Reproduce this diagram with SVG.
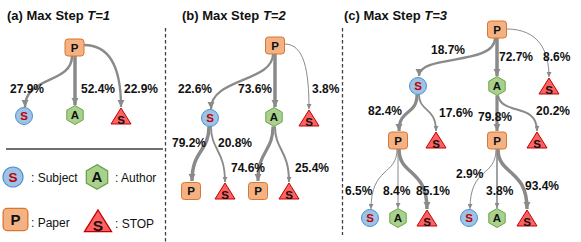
<svg xmlns="http://www.w3.org/2000/svg" xmlns:xlink="http://www.w3.org/1999/xlink" width="581" height="242" viewBox="0 0 581 242">
<style>
text{font-family:"Liberation Sans",Arial,sans-serif;fill:#111}
.t{font-size:13px;font-weight:bold}
.l{font-size:12px;font-weight:bold}
.g{font-size:12px}
.n{font-size:11.5px;font-weight:bold;text-anchor:middle}
.red{fill:#C00000}
.pb{fill:#F4B183;stroke:#D9772F;stroke-width:1}
.sc{fill:#9DC3E6;stroke:#4F8FCF;stroke-width:1}
.ah{fill:#A9D18E;stroke:#6FA24A;stroke-width:1}
.tr{fill:#FF6161;stroke:#C00000;stroke-width:1}
.e{fill:none;stroke:#8A8A8A}
.dash{stroke:#404040;stroke-width:1.3;stroke-dasharray:3.5 2.5;fill:none}
</style>
<defs>
<marker id="m" viewBox="0 0 10 10" refX="10" refY="5" markerWidth="7.5" markerHeight="7.5" markerUnits="userSpaceOnUse" orient="auto"><path d="M0,0 L10,5 L0,10 Z" fill="#8A8A8A"/></marker>
<marker id="ms" viewBox="0 0 10 10" refX="10" refY="5" markerWidth="5" markerHeight="5" markerUnits="userSpaceOnUse" orient="auto"><path d="M0,0 L10,5 L0,10 Z" fill="#8A8A8A"/></marker>
<rect id="pbox" class="pb" x="-9.5" y="-8.5" width="19" height="17" rx="3"/>
<circle id="scir" class="sc" r="8.5"/>
<polygon id="ahex" class="ah" points="0,-9.5 8.2,-4.75 8.2,4.75 0,9.5 -8.2,4.75 -8.2,-4.75"/>
<polygon id="tri" class="tr" points="0,0 10,16 -10,16"/>
</defs>

<!-- titles -->
<text class="t" x="7" y="20">(a) Max Step <tspan font-style="italic">T=1</tspan></text>
<text class="t" x="182" y="20">(b) Max Step <tspan font-style="italic">T=2</tspan></text>
<text class="t" x="344" y="20">(c) Max Step <tspan font-style="italic">T=3</tspan></text>

<!-- separators -->
<line class="dash" x1="165.5" y1="28" x2="165.5" y2="242"/>
<line class="dash" x1="342.5" y1="28" x2="342.5" y2="235"/>
<line x1="6" y1="149" x2="163" y2="149" stroke="#404040" stroke-width="1.5"/>

<g id="connectors">
<!-- (a) -->
<path class="e" stroke-width="2.5" marker-end="url(#m)" d="M72,56 C72,84 25,76 25,107"/>
<path class="e" stroke-width="3.5" marker-end="url(#m)" d="M75,56 L75,105"/>
<path class="e" stroke-width="2.3" marker-end="url(#m)" d="M84,45 C112,45 121,72 121,107"/>
<!-- (b) -->
<path class="e" stroke-width="2.2" marker-end="url(#m)" d="M273,54 C273,82 211,78 211,109"/>
<path class="e" stroke-width="3.5" marker-end="url(#m)" d="M275,54 L275,107"/>
<path class="e" stroke-width="1" marker-end="url(#ms)" d="M284.5,44 C304,44 309,70 309,109"/>
<path class="e" stroke-width="3.5" marker-end="url(#m)" d="M209,126.5 C209,152 192,150 192,181"/>
<path class="e" stroke-width="1.8" marker-end="url(#ms)" d="M211,126.5 C211,150 225,150 225,182"/>
<path class="e" stroke-width="3.2" marker-end="url(#m)" d="M273,126.5 C273,152 258,150 258,181"/>
<path class="e" stroke-width="2" marker-end="url(#ms)" d="M275,126.5 C275,150 289,150 289,182"/>
<!-- (c) level 1 -->
<path class="e" stroke-width="2.4" marker-end="url(#m)" d="M495,38 C495,66 419,54 419,76"/>
<path class="e" stroke-width="3.5" marker-end="url(#m)" d="M497,38 L497,76"/>
<path class="e" stroke-width="1" marker-end="url(#ms)" d="M506.5,29 C538,29 549,50 549,77"/>
<!-- (c) level 2 -->
<path class="e" stroke-width="3.2" marker-end="url(#m)" d="M417,94.5 C417,116 399,108 399,131"/>
<path class="e" stroke-width="1.8" marker-end="url(#ms)" d="M419,94.5 C419,112 436,107 436,131"/>
<path class="e" stroke-width="3.2" marker-end="url(#m)" d="M497,95.5 L497,131"/>
<path class="e" stroke-width="2" marker-end="url(#ms)" d="M498,95.5 C502,116 537,102 537,131"/>
<!-- (c) level 3 -->
<path class="e" stroke-width="1" marker-end="url(#ms)" d="M397,149 C397,176 371,166 371,209"/>
<path class="e" stroke-width="1" marker-end="url(#ms)" d="M398,149 L398,208"/>
<path class="e" stroke-width="3.5" marker-end="url(#m)" d="M399,149 C399,176 427,168 427,209"/>
<path class="e" stroke-width="1" marker-end="url(#ms)" d="M496,149 C496,178 470,166 470,209"/>
<path class="e" stroke-width="1.6" marker-end="url(#ms)" d="M497,149 L497,208"/>
<path class="e" stroke-width="3.5" marker-end="url(#m)" d="M498,149 C498,176 527,168 527,209"/>
</g>

<g id="edge-labels">
<text class="l" x="10" y="93">27.9%</text>
<text class="l" x="81" y="93">52.4%</text>
<text class="l" x="124" y="93">22.9%</text>
<text class="l" x="178" y="93">22.6%</text>
<text class="l" x="238" y="93">73.6%</text>
<text class="l" x="312" y="93">3.8%</text>
<text class="l" x="172" y="147">79.2%</text>
<text class="l" x="218" y="147">20.8%</text>
<text class="l" x="231" y="172">74.6%</text>
<text class="l" x="295" y="172">25.4%</text>
<text class="l" x="431" y="54">18.7%</text>
<text class="l" x="499" y="61">72.7%</text>
<text class="l" x="543" y="61">8.6%</text>
<text class="l" x="368" y="115">82.4%</text>
<text class="l" x="439" y="116.5">17.6%</text>
<text class="l" x="478" y="121">79.8%</text>
<text class="l" x="536" y="115">20.2%</text>
<text class="l" x="345" y="195">6.5%</text>
<text class="l" x="383" y="195">8.4%</text>
<text class="l" x="416" y="195">85.1%</text>
<text class="l" x="456" y="178">2.9%</text>
<text class="l" x="486" y="195">3.8%</text>
<text class="l" x="525" y="190">93.4%</text>
</g>

<!-- (a) nodes -->
<g id="a-P" transform="translate(74.5,47.5)"><use xlink:href="#pbox"/><text class="n" y="4">P</text></g>
<g id="a-S" transform="translate(24,116)"><use xlink:href="#scir"/><text class="n red" y="4">S</text></g>
<g id="a-A" transform="translate(75,115)"><use xlink:href="#ahex"/><text class="n" y="4">A</text></g>
<g id="a-T" transform="translate(121,108)"><use xlink:href="#tri"/><text class="n" y="15.5">S</text></g>

<!-- (b) nodes -->
<g id="b-P" transform="translate(275,45.5)"><use xlink:href="#pbox"/><text class="n" y="4">P</text></g>
<g id="b-S" transform="translate(210,118)"><use xlink:href="#scir"/><text class="n red" y="4">S</text></g>
<g id="b-A" transform="translate(274,117)"><use xlink:href="#ahex"/><text class="n" y="4">A</text></g>
<g id="b-T" transform="translate(309,110)"><use xlink:href="#tri"/><text class="n" y="15.5">S</text></g>
<g id="b-P2" transform="translate(191,191)"><use xlink:href="#pbox"/><text class="n" y="4">P</text></g>
<g id="b-T2" transform="translate(225,183)"><use xlink:href="#tri"/><text class="n" y="15.5">S</text></g>
<g id="b-P3" transform="translate(258,191)"><use xlink:href="#pbox"/><text class="n" y="4">P</text></g>
<g id="b-T3" transform="translate(289,183)"><use xlink:href="#tri"/><text class="n" y="15.5">S</text></g>

<!-- (c) nodes -->
<g id="c-P" transform="translate(497,29.5)"><use xlink:href="#pbox"/><text class="n" y="4">P</text></g>
<g id="c-S" transform="translate(418,86)"><use xlink:href="#scir"/><text class="n red" y="4">S</text></g>
<g id="c-A" transform="translate(497,86)"><use xlink:href="#ahex"/><text class="n" y="4">A</text></g>
<g id="c-T" transform="translate(549,78)"><use xlink:href="#tri"/><text class="n" y="15.5">S</text></g>
<g id="c-P2" transform="translate(398,140.5)"><use xlink:href="#pbox"/><text class="n" y="4">P</text></g>
<g id="c-T2" transform="translate(436,132)"><use xlink:href="#tri"/><text class="n" y="15.5">S</text></g>
<g id="c-P3" transform="translate(497,140.5)"><use xlink:href="#pbox"/><text class="n" y="4">P</text></g>
<g id="c-T3" transform="translate(537,132)"><use xlink:href="#tri"/><text class="n" y="15.5">S</text></g>
<g id="c-S4" transform="translate(370,218)"><use xlink:href="#scir"/><text class="n red" y="4">S</text></g>
<g id="c-A4" transform="translate(398,218)"><use xlink:href="#ahex"/><text class="n" y="4">A</text></g>
<g id="c-T4" transform="translate(427,210)"><use xlink:href="#tri"/><text class="n" y="15.5">S</text></g>
<g id="c-S5" transform="translate(469,218)"><use xlink:href="#scir"/><text class="n red" y="4">S</text></g>
<g id="c-A5" transform="translate(497,218)"><use xlink:href="#ahex"/><text class="n" y="4">A</text></g>
<g id="c-T5" transform="translate(527,210)"><use xlink:href="#tri"/><text class="n" y="15.5">S</text></g>

<!-- legend -->
<g id="legend">
<g transform="translate(13,177) scale(1.18)"><use xlink:href="#scir"/><text class="n red" y="4">S</text></g>
<text class="g" x="31" y="182">: Subject</text>
<g transform="translate(97,177) scale(1.3)"><use xlink:href="#ahex"/><text class="n" y="4">A</text></g>
<text class="g" x="115" y="182">: Author</text>
<g transform="translate(15.5,219.5) scale(1.3)"><use xlink:href="#pbox"/><text class="n" y="4">P</text></g>
<text class="g" x="31" y="227">: Paper</text>
<g transform="translate(98,210) scale(1.35)"><use xlink:href="#tri"/><text class="n" y="15.5">S</text></g>
<text class="g" x="115" y="228">: STOP</text>
</g>
</svg>
